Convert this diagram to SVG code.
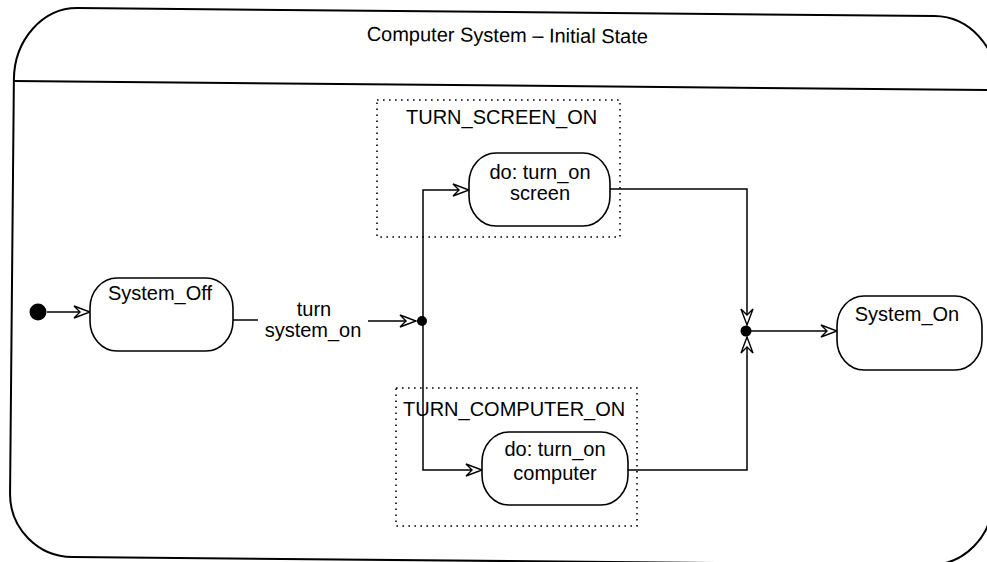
<svg xmlns="http://www.w3.org/2000/svg" width="987" height="562" viewBox="0 0 987 562">
<style>
  text { font-family: "Liberation Sans", Arial, sans-serif; font-size: 20px; fill: #000; }
  .c { text-anchor: middle; }
  .frame { fill: none; stroke: #000; stroke-width: 2; }
  .state { fill: #fff; stroke: #000; stroke-width: 1.6; }
  .region { fill: none; stroke: #000; stroke-width: 1.6; stroke-dasharray: 1.6 4.4; }
  .edge { fill: none; stroke: #000; stroke-width: 1.5; }
  .dot { fill: #000; }
</style>
<defs>
  <marker id="arr" markerUnits="userSpaceOnUse" markerWidth="20" markerHeight="16" refX="17" refY="7" orient="auto">
    <path d="M1,1 Q9,4 17,7 Q9,10 1,13 L7,7 Z" fill="#fff" stroke="#000" stroke-width="1.4" stroke-linejoin="miter"/>
  </marker>
</defs>

<g id="frame" transform="rotate(0.53 500 285)">
  <path class="frame" d="M75,12 L932,12 A63 68 0 0 1 995,80 L995,495 A63 66 0 0 1 932,561 L75,561 A63 63 0 0 1 12,498 L12,84 A63 72 0 0 1 75,12 Z"/>
  <line class="frame" x1="12" y1="85.5" x2="995" y2="85.5"/>
  <text class="c" x="505" y="42">Computer System – Initial State</text>
</g>

<g id="region_screen">
  <rect class="region" x="377" y="100" width="243" height="137"/>
  <text x="406" y="124">TURN_SCREEN_ON</text>
</g>
<g id="region_computer">
  <rect class="region" x="396" y="388" width="241" height="138"/>
  <text x="403" y="416">TURN_COMPUTER_ON</text>
</g>

<g id="connectors">
  <line class="edge" x1="47" y1="312" x2="90" y2="312" marker-end="url(#arr)"/>
  <line class="edge" x1="233" y1="320" x2="258" y2="320"/>
  <line class="edge" x1="368" y1="321" x2="416" y2="321" marker-end="url(#arr)"/>
  <polyline class="edge" points="423,321 423,190 469,190" marker-end="url(#arr)"/>
  <polyline class="edge" points="423,321 423,470 482,470" marker-end="url(#arr)"/>
  <polyline class="edge" points="610,189 747,189 747,325" marker-end="url(#arr)"/>
  <polyline class="edge" points="628,470 747,470 747,337" marker-end="url(#arr)"/>
  <line class="edge" x1="747" y1="331" x2="837" y2="331" marker-end="url(#arr)"/>
  <text class="c" x="314" y="316">turn</text>
  <text class="c" x="313" y="337">system_on</text>
</g>

<g id="initial">
  <circle class="dot" cx="38" cy="312" r="8.5"/>
</g>

<g id="System_Off">
  <rect class="state" x="90" y="278" width="143" height="73" rx="27" ry="30"/>
  <text class="c" x="160" y="300">System_Off</text>
</g>

<g id="fork">
  <circle class="dot" cx="422" cy="321" r="5"/>
</g>

<g id="screen_state">
  <rect class="state" x="469" y="153" width="141" height="73" rx="27" ry="30"/>
  <text class="c" x="540" y="179">do: turn_on</text>
  <text class="c" x="540" y="200">screen</text>
</g>

<g id="computer_state">
  <rect class="state" x="482" y="432" width="146" height="73" rx="27" ry="30"/>
  <text class="c" x="555" y="456">do: turn_on</text>
  <text class="c" x="555" y="480">computer</text>
</g>

<g id="join">
  <circle class="dot" cx="746" cy="331" r="5.5"/>
</g>

<g id="System_On">
  <rect class="state" x="837" y="296" width="145" height="74" rx="27" ry="30"/>
  <text class="c" x="907" y="321">System_On</text>
</g>
</svg>
